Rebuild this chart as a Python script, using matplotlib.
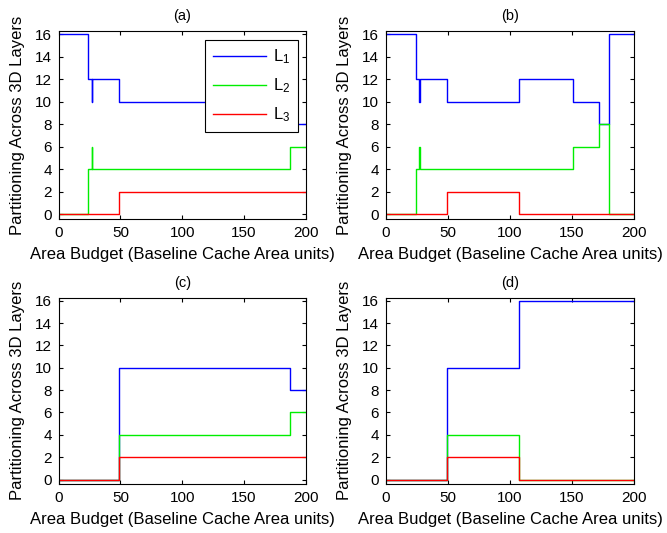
import matplotlib
matplotlib.use("Agg")
import matplotlib.pyplot as plt

plt.rcParams['font.family'] = ['Liberation Sans', 'DejaVu Sans']
plt.rcParams['mathtext.fontset'] = 'custom'
plt.rcParams['mathtext.rm'] = 'Liberation Sans'
plt.rcParams['mathtext.it'] = 'Liberation Sans'

# Step breakpoints (x where value starts) and values, per panel
a_x1 = [0, 24, 27, 27.2, 49, 187, 200]
a_y1 = [16, 12, 10, 12, 10, 8, 8]
a_x2 = [0, 24, 27, 27.2, 187, 200]
a_y2 = [0, 4, 6, 4, 6, 6]
a_x3 = [0, 49, 200]
a_y3 = [0, 2, 2]

b_x1 = [0, 24, 27, 27.2, 49, 107, 151, 172, 180, 200]
b_y1 = [16, 12, 10, 12, 10, 12, 10, 8, 16, 16]
b_x2 = [0, 24, 27, 27.2, 151, 172, 180, 200]
b_y2 = [0, 4, 6, 4, 6, 8, 0, 0]
b_x3 = [0, 49, 107, 200]
b_y3 = [0, 2, 0, 0]

c_x1 = [0, 49, 187, 200]
c_y1 = [0, 10, 8, 8]
c_x2 = [0, 49, 187, 200]
c_y2 = [0, 4, 6, 6]
c_x3 = [0, 49, 200]
c_y3 = [0, 2, 2]

d_x1 = [0, 49, 107, 200]
d_y1 = [0, 10, 16, 16]
d_x2 = [0, 49, 107, 200]
d_y2 = [0, 4, 0, 0]
d_x3 = [0, 49, 107, 200]
d_y3 = [0, 2, 0, 0]

panels = [
    ("(a)", [(a_x1, a_y1), (a_x2, a_y2), (a_x3, a_y3)]),
    ("(b)", [(b_x1, b_y1), (b_x2, b_y2), (b_x3, b_y3)]),
    ("(c)", [(c_x1, c_y1), (c_x2, c_y2), (c_x3, c_y3)]),
    ("(d)", [(d_x1, d_y1), (d_x2, d_y2), (d_x3, d_y3)]),
]
series_labels = [r'$\mathregular{L_1}$', r'$\mathregular{L_2}$', r'$\mathregular{L_3}$']
colors = ['#0000ff', '#00ee00', '#ff0000']
xticks = [0, 50, 100, 150, 200]
yticks = [0, 2, 4, 6, 8, 10, 12, 14, 16]

W, H = 667, 533
fig = plt.figure(figsize=(W / 100, H / 100), dpi=100)
rects = [
    (58.7, 31, 305.7, 219),
    (386, 31, 634, 219),
    (58.7, 297.7, 305.7, 484),
    (386, 297.7, 634, 484),
]
for (title, series), (l, t, r, b) in zip(panels, rects):
    ax = fig.add_axes([l / W, 1 - b / H, (r - l) / W, (b - t) / H])
    for (xs, ys), c, lab in zip(series, colors, series_labels):
        ax.step(xs, ys, where='post', color=c, lw=1.0, label=lab)
    ax.set_xlim(0, 200)
    ax.set_ylim(-0.4, 16.27)
    ax.set_xticks(xticks)
    ax.set_yticks(yticks)
    ax.tick_params(direction='in', top=True, right=True, length=3, width=0.8,
                   labelsize=11, pad=5)
    for s in ax.spines.values():
        s.set_linewidth(0.8)
    ax.set_title(title, fontsize=10.5, pad=8)
    ax.set_xlabel('Area Budget (Baseline Cache Area units)', fontsize=12, labelpad=5)
    ax.set_ylabel('Partitioning Across 3D Layers', fontsize=12, labelpad=7)
    if title == "(a)":
        leg = ax.legend(loc='upper right', bbox_to_anchor=(0.968, 0.952),
                        borderaxespad=0, fontsize=12, handlelength=3.2,
                        labelspacing=0.62, fancybox=False, framealpha=1,
                        edgecolor='black', borderpad=0.45, handletextpad=0.4)
        leg.get_frame().set_linewidth(0.8)

fig.savefig('out.png', dpi=100)
